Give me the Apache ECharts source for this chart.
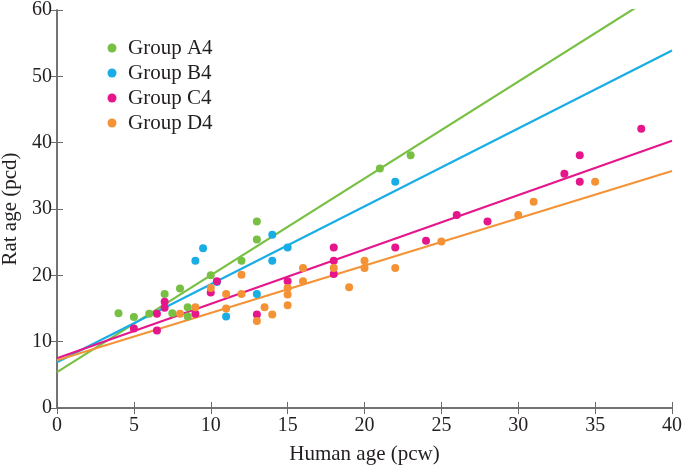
<!DOCTYPE html>
<html><head><meta charset="utf-8">
<script src="https://cdn.jsdelivr.net/npm/echarts@6/dist/echarts.min.js"></script>
<style>html,body{margin:0;padding:0;background:#fff}#c{width:685px;height:466px}</style>
</head><body><div id="c"></div>
<script>
const groupNames = ['Group A4','Group B4','Group C4','Group D4'];
const groupColors = ['#78c043','#19ade6','#e5168c','#f39336'];
const xTicks = [0,5,10,15,20,25,30,35,40];
const yTicks = [0,10,20,30,40,50,60];

const groupA4 = [[4,14.3],[5,13.7],[6,14.2],[7,17.2],[7.5,14.3],[8,18],[8.5,15.2],[8.5,13.8],[10,20],[12,22.2],[13,28.1],[13,25.4],[21,36.1],[23,38.1]];
const groupB4 = [[9,22.2],[9.5,24.1],[10.4,19],[11,13.8],[13,17.2],[14,26.1],[14,22.2],[15,24.2],[22,34.1]];
const groupC4 = [[5,12],[6.5,11.7],[6.5,14.2],[7,16],[7,15.1],[9,14.2],[10,17.4],[10.4,19.1],[13,14.1],[15,19.1],[18,24.2],[18,22.2],[18,20.2],[22,24.2],[24,25.2],[26,29.1],[28,28.1],[33,35.3],[34,38.1],[34,34.1],[38,42.1]];
const groupD4 = [[8,14.2],[9,15.2],[10,18.1],[11,17.2],[11,15],[12,20.1],[12,17.2],[13,13.1],[13.5,15.2],[14,14.1],[15,18.1],[15,17.1],[15,15.5],[16,21.1],[16,19.1],[18,21.1],[19,18.2],[20,22.2],[20,21.1],[22,21.1],[25,25.1],[30,29.1],[31,31.1],[35,34.1]];

// Fitted trend lines: intercept and slope
const fitIntercept = [5.4, 6.9, 7.5, 7.2];
const fitSlope = [1.46, 1.175, 0.82, 0.713];
const fitRange = [0, 40];

const groups = [groupA4, groupB4, groupC4, groupD4];
const font = '"Liberation Serif","DejaVu Serif",serif';

const series = [];
groups.forEach((g, i) => {
  series.push({
    type: 'line', name: groupNames[i] + ' fit', xAxisIndex: 0, yAxisIndex: 0,
    data: fitRange.map(x => [x, fitIntercept[i] + fitSlope[i] * x]),
    symbol: 'none', clip: true, z: 1,
    lineStyle: { color: groupColors[i], width: 2.2 }, silent: true
  });
});
groups.forEach((g, i) => {
  series.push({
    type: 'scatter', name: groupNames[i], xAxisIndex: 0, yAxisIndex: 0,
    data: g, symbol: 'circle', symbolSize: 8, z: 3,
    itemStyle: { color: groupColors[i], opacity: 1 }
  });
});

const axisLine = { show: true, lineStyle: { color: '#6b6b6b', width: 1.5 } };
const chart = echarts.init(document.getElementById('c'), null, { renderer: 'canvas' });
chart.setOption({
  animation: false,
  backgroundColor: '#fff',
  grid: { left: 57, right: 13, top: 10, bottom: 58, containLabel: false, outerBoundsMode: 'none' },
  legend: {
    data: groupNames, orient: 'vertical', left: 102.5, top: 32.5,
    itemWidth: 9, itemHeight: 9, itemGap: 4, icon: 'circle',
    textStyle: { fontFamily: font, fontSize: 21, color: '#231f20', padding: [0, 0, 0, 6.5] }
  },
  xAxis: [
    { type: 'value', min: 0, max: 40, interval: 5, position: 'bottom',
      name: 'Human age (pcw)', nameLocation: 'middle', nameGap: 36,
      nameTextStyle: { fontFamily: font, fontSize: 21, color: '#231f20' },
      axisLine: axisLine, axisTick: { inside: true, length: 6, lineStyle: { color: '#6b6b6b' } },
      axisLabel: { fontFamily: font, fontSize: 20, color: '#231f20', margin: 8 },
      splitLine: { show: false } },
    { type: 'value', min: 0, max: 40, interval: 5, position: 'top',
      axisLine: axisLine, axisTick: { inside: true, length: 6, lineStyle: { color: '#6b6b6b' } },
      axisLabel: { show: false }, splitLine: { show: false } }
  ],
  yAxis: [
    { type: 'value', min: 0, max: 60, interval: 10, position: 'left',
      name: 'Rat age (pcd)', nameLocation: 'middle', nameGap: 35,
      nameTextStyle: { fontFamily: font, fontSize: 21, color: '#231f20' },
      axisLine: axisLine, axisTick: { inside: true, length: 6, lineStyle: { color: '#6b6b6b' } },
      axisLabel: { fontFamily: font, fontSize: 20, color: '#231f20', margin: 5 },
      splitLine: { show: false } },
    { type: 'value', min: 0, max: 60, interval: 10, position: 'right',
      axisLine: axisLine, axisTick: { inside: true, length: 6, lineStyle: { color: '#6b6b6b' } },
      axisLabel: { show: false }, splitLine: { show: false } }
  ],
  series: series
});
</script></body></html>
